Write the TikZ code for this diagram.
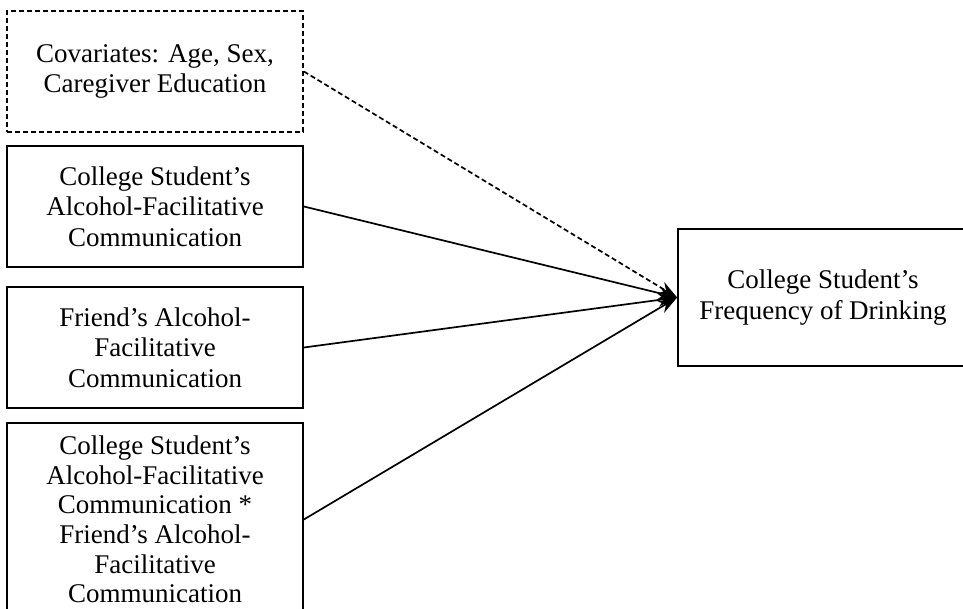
\documentclass[tikz,border=0pt]{standalone}
\usepackage{fontspec}
\setmainfont{Liberation Serif}
\usetikzlibrary{arrows.meta}

\begin{document}
\begin{tikzpicture}[->,>={Stealth[length=19pt,width=13pt]},x=1pt,y=-1pt,
                    line width=1.7pt]
\tikzstyle{every node}=[draw=black,text=black,align=center,inner sep=2pt]
\tikzstyle{covdash}=[dash pattern=on 5pt off 3pt]
\tikzset{font=\fontsize{27pt}{30.5pt}\selectfont}

        \useasboundingbox (0,0) rectangle (963,609);

        \node[minimum width=296pt,minimum height=121pt,covdash]   (cov)   at (155,71.5)  {Covariates: Age, Sex,\\Caregiver Education};
        \node[minimum width=296pt,minimum height=121pt]   (own)   at (155,206.5) {College Student's\\Alcohol-Facilitative\\Communication};
        \node[minimum width=296pt,minimum height=121pt]   (frd)   at (155,347.5) {Friend's Alcohol-\\Facilitative\\Communication};
        \node[minimum width=296pt,minimum height=193pt,font=\fontsize{27pt}{29.6pt}\selectfont]   (inter) at (155,519.5) {College Student's\\Alcohol-Facilitative\\Communication *\\Friend's Alcohol-\\Facilitative\\Communication};

        \node[minimum width=290pt,minimum height=137pt]   (freq)  at (823,297.5) {College Student's\\Frequency of Drinking};

        \path[->]
        (cov.east)   edge[covdash]   (freq.west)
        (own.east)   edge            (freq.west)
        (frd.east)   edge            (freq.west)
        (inter.east) edge            (freq.west)
        ; %end path

\end{tikzpicture}
\end{document}
